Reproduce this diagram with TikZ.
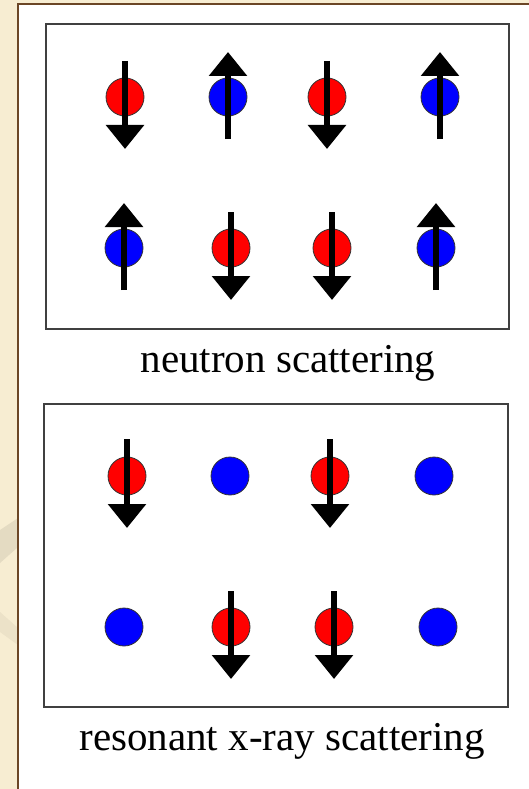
\documentclass[tikz,border=0pt]{standalone}
\usepackage{fontspec}
\setmainfont{Liberation Serif}
\usepackage{xcolor}
\usetikzlibrary{arrows.meta}
\definecolor{paper}{HTML}{F7EDD2}
\definecolor{swoosh}{HTML}{E4DBC2}
\definecolor{frame}{HTML}{6B4626}

\begin{document}
\begin{tikzpicture}[
    x=1pt, y=-1pt,
    panel/.style={draw=black!75, line width=1.5pt},
    site/.style={circle, draw=black!80, line width=0.8pt, minimum size=38pt, inner sep=0pt},
    upsite/.style={site, fill=blue},
    downsite/.style={site, fill=red},
    spin/.style={-{Triangle[width=37pt,length=24pt]}, line width=6.5pt},
    caption/.style={font=\fontsize{41}{46}\selectfont, anchor=base}
]
    \path[use as bounding box, clip] (0,0) rectangle (529,789);

    % slide background
    \fill[paper] (0,0) rectangle (529,789);
    \fill[swoosh] (0,530) -- (18,518) -- (18,547) -- (0,563) -- cycle;
    \fill[swoosh!60!paper] (0,612) -- (18,628) -- (18,645) -- (0,632) -- cycle;
    \filldraw[fill=white, draw=frame, line width=2pt] (18,4) rectangle (545,805);

    % neutron scattering panel
    \draw[panel] (46,24) rectangle (509,329);
    \node[downsite] (na1) at (125,97) {};
    \node[upsite]   (na2) at (228,97) {};
    \node[downsite] (na3) at (327,97) {};
    \node[upsite]   (na4) at (440,97) {};
    \node[upsite]   (nb1) at (124,248) {};
    \node[downsite] (nb2) at (231,248) {};
    \node[downsite] (nb3) at (332,248) {};
    \node[upsite]   (nb4) at (436,248) {};
    \draw[spin] ([yshift=36pt]na1.center) -- ([yshift=-52pt]na1.center);
    \draw[spin] ([yshift=-42pt]na2.center) -- ([yshift=45pt]na2.center);
    \draw[spin] ([yshift=36pt]na3.center) -- ([yshift=-52pt]na3.center);
    \draw[spin] ([yshift=-42pt]na4.center) -- ([yshift=45pt]na4.center);
    \draw[spin] ([yshift=-42pt]nb1.center) -- ([yshift=45pt]nb1.center);
    \draw[spin] ([yshift=36pt]nb2.center) -- ([yshift=-52pt]nb2.center);
    \draw[spin] ([yshift=36pt]nb3.center) -- ([yshift=-52pt]nb3.center);
    \draw[spin] ([yshift=-42pt]nb4.center) -- ([yshift=45pt]nb4.center);
    \node[caption] (nlabel) at (288,372) {neutron scattering};

    % resonant x-ray scattering panel
    \draw[panel] (44,404) rectangle (508,707);
    \node[downsite] (xa1) at (127,476) {};
    \node[upsite]   (xa2) at (230,476) {};
    \node[downsite] (xa3) at (330,476) {};
    \node[upsite]   (xa4) at (434,476) {};
    \node[upsite]   (xb1) at (124,627) {};
    \node[downsite] (xb2) at (231,627) {};
    \node[downsite] (xb3) at (334,627) {};
    \node[upsite]   (xb4) at (438,627) {};
    \draw[spin] ([yshift=37pt]xa1.center) -- ([yshift=-52pt]xa1.center);
    \draw[spin] ([yshift=37pt]xa3.center) -- ([yshift=-52pt]xa3.center);
    \draw[spin] ([yshift=36pt]xb2.center) -- ([yshift=-52pt]xb2.center);
    \draw[spin] ([yshift=36pt]xb3.center) -- ([yshift=-52pt]xb3.center);
    \node[caption] (xlabel) at (282,750) {resonant x-ray scattering};
\end{tikzpicture}
\end{document}
